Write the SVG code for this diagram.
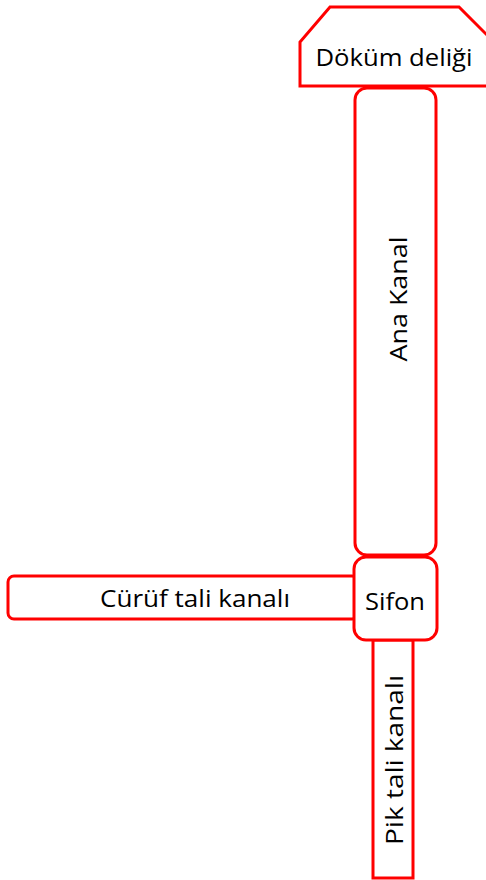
<svg xmlns="http://www.w3.org/2000/svg" width="486" height="880" viewBox="0 0 486 880">
<style>
.s{fill:#fff;stroke:#ff0000;stroke-width:3}
.t{font-family:"Open Sans","Noto Sans",sans-serif;font-size:24px;fill:#000;text-anchor:middle;dominant-baseline:central}
</style>
<g id="pik">
<rect class="s" x="373" y="640" width="40" height="238"/>
<text class="t" transform="translate(393,760) rotate(-90)" textLength="170" lengthAdjust="spacingAndGlyphs">Pik tali kanalı</text>
</g>
<g id="curuf">
<rect class="s" x="8" y="576" width="350" height="43" rx="6"/>
<text class="t" x="195" y="597" textLength="190" lengthAdjust="spacingAndGlyphs">Cürüf tali kanalı</text>
</g>
<g id="ana">
<rect class="s" x="355" y="88" width="81" height="467" rx="12"/>
<text class="t" transform="translate(397,299) rotate(-90)" textLength="125" lengthAdjust="spacingAndGlyphs">Ana Kanal</text>
</g>
<g id="sifon">
<rect class="s" x="354" y="557" width="83" height="83" rx="12"/>
<text class="t" x="395" y="600" textLength="60" lengthAdjust="spacingAndGlyphs">Sifon</text>
</g>
<g id="dokum">
<polygon class="s" points="330,7 459,7 488,36 488,86 300,86 300,42"/>
<text class="t" x="394" y="56" textLength="157" lengthAdjust="spacingAndGlyphs">Döküm deliği</text>
</g>
<g id="connectors"/>
</svg>
